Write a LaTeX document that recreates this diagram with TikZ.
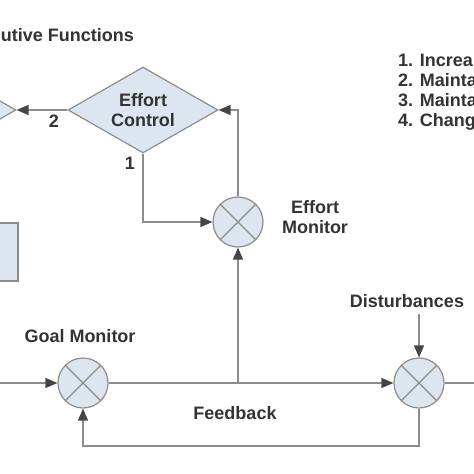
\documentclass[tikz,border=0pt]{standalone}
\usepackage{fontspec}
\setmainfont{Liberation Sans}
\usetikzlibrary{shapes.geometric,arrows.meta,calc}
\definecolor{linec}{HTML}{8C8C8C}
\definecolor{arrowc}{HTML}{454545}
\definecolor{fillc}{HTML}{DCE5F0}
\definecolor{textc}{HTML}{333333}
\begin{document}
\begin{tikzpicture}[x=1pt,y=-1pt,
  txt/.style={font=\fontsize{18}{20}\selectfont\bfseries, text=textc, inner sep=1pt},
  conn/.style={draw=linec, line width=1.3pt},
  arr/.style={-{Triangle[length=12pt,width=10pt,color=arrowc]}},
  dia/.style={shape=diamond, draw=linec, fill=fillc, line width=1.2pt, minimum width=150pt, minimum height=86pt, inner sep=0pt, aspect=1.75},
  sumnode/.style={circle, draw=linec, fill=fillc, line width=1.2pt, minimum size=50pt, inner sep=0pt,
    path picture={\draw[linec, line width=1.2pt] (path picture bounding box.north west) -- (path picture bounding box.south east)
      (path picture bounding box.north east) -- (path picture bounding box.south west);}},
  boxnode/.style={draw=linec, fill=fillc, line width=1.2pt}
]
\useasboundingbox (0,0) rectangle (474,474);
\clip (0,0) rectangle (474,474);

% title
\node[txt, anchor=east] (title) at (135,35) {utive Functions};

% list
\node[txt, anchor=west, align=left] (list) at (397,92) {1. Increa\\2. Mainta\\3. Mainta\\4. Chang};

% shapes
\node[dia] (ld) at (-59,110) {};
\node[dia, txt, align=center, inner sep=0pt] (dc) at (143,110) {Effort\\Control};
\node[boxnode, minimum width=60pt, minimum height=58pt, inner sep=0pt] (rect) at (-12,252) {};
\node[sumnode] (em) at (238,222) {};
\node[sumnode] (gm) at (83,383) {};
\node[sumnode] (dm) at (419,383) {};

% labels
\node[txt] (l2) at (54,121) {2};
\node[txt] (l1) at (130,163) {1};
\node[txt, align=center] (emlab) at (315,217) {Effort\\Monitor};
\node[txt] (gmlab) at (80,336) {Goal Monitor};
\node[txt] (dist) at (407,301) {Disturbances};
\node[txt] (fb) at (235,413) {Feedback};

% coordinates
\coordinate (inL) at (0,383);
\coordinate (br) at (238,383);
\coordinate (outR) at (474,383);
\coordinate (fbY) at (0,446);

% connectors
\draw[conn, arr] (dc.west) -- (ld.east);
\draw[conn, arr] (em.north) |- (dc.east);
\draw[conn, arr] (dc.south) |- (em.west);
\draw[conn, arr] (inL) -- (gm.west);
\draw[conn, arr] (gm.east) -- (dm.west);
\draw[conn, arr] (br) -- (em.south);
\draw[conn] (dm.east) -- (outR);
\draw[conn, arr] (dm.north |- 0,314) -- (dm.north);
\draw[conn, arr] (dm.south) -- (dm.south |- fbY) -| (gm.south);
\end{tikzpicture}
\end{document}
